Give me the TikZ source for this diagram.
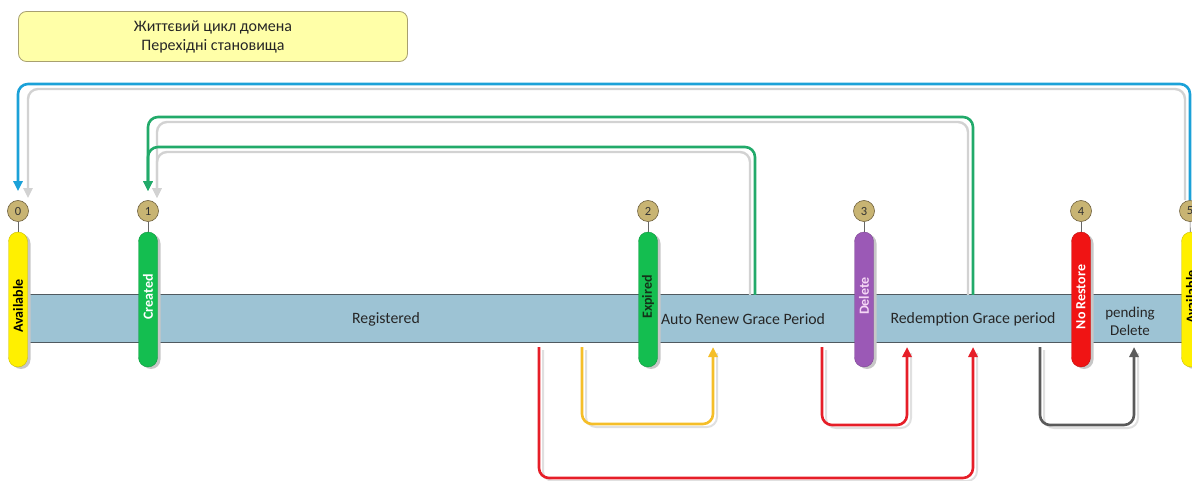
\documentclass[tikz,border=0pt]{standalone}
\usepackage{fontspec}
\setmainfont{Carlito}
\usetikzlibrary{arrows.meta,calc}
\definecolor{barfill}{RGB}{157,195,212}
\definecolor{bardraw}{RGB}{80,90,96}
\definecolor{titlefill}{RGB}{255,255,168}
\definecolor{titledraw}{RGB}{168,160,112}
\definecolor{pyellow}{RGB}{255,240,0}
\definecolor{pgreen}{RGB}{20,190,80}
\definecolor{ppurple}{RGB}{155,89,182}
\definecolor{pred}{RGB}{240,20,20}
\definecolor{cfill}{RGB}{200,180,115}
\definecolor{cdraw}{RGB}{110,95,60}
\definecolor{lblue}{RGB}{27,161,216}
\definecolor{lgreen}{RGB}{34,170,106}
\definecolor{lyellow}{RGB}{245,190,40}
\definecolor{lred}{RGB}{230,30,40}
\definecolor{ldark}{RGB}{90,90,90}
\definecolor{lshadow}{RGB}{210,210,210}
\definecolor{delfont}{RGB}{245,215,245}
\definecolor{expfont}{RGB}{20,50,25}
\begin{document}
\begin{tikzpicture}[x=1pt,y=-1pt,
  pillbox/.style={draw=#1!80!black, line width=0.4pt, fill=#1, rounded corners=9.5pt, minimum width=19pt, minimum height=135pt, inner sep=0pt},
  pillshadow/.style={fill=black!22, rounded corners=9.5pt, minimum width=19pt, minimum height=135pt, inner sep=0pt},
  pilltext/.style={rotate=90, font=\fontsize{14}{16}\selectfont\bfseries, inner sep=0pt},
  numc/.style={circle, draw=cdraw, line width=0.6pt, fill=cfill, minimum size=21pt, inner sep=0pt, font=\fontsize{12.5}{13}\selectfont, text=black!80},
  bartext/.style={font=\fontsize{15.8}{18}\selectfont, text=black!85, align=center},
  link/.style={line width=2.6pt, rounded corners=10pt},
  tip/.style={-{Triangle[length=10pt,width=9pt]}},
  shadowlink/.style={line width=2.4pt, draw=lshadow, rounded corners=10pt},
  stub/.style={draw=black!60, line width=0.6pt}
]
\useasboundingbox (0,0) rectangle (1192,481);

% title
\node[draw=titledraw, line width=0.8pt, fill=titlefill, rounded corners=8pt, minimum width=389pt, minimum height=50pt, align=center, font=\fontsize{16}{19}\selectfont, text=black!85] (title) at (213,36.5) {Життєвий цикл домена\\Перехідні становища};

% bar
\node[draw=bardraw, line width=1pt, fill=barfill, minimum width=1182pt, minimum height=47pt, inner sep=0pt] (bar) at (609,318.5) {};

\node[bartext] (reg) at (386,319) {Registered};
\node[bartext] (arg) at (743,319) {Auto Renew Grace Period};
\node[bartext] (rgp) at (973,319) {Redemption Grace period};
\node[bartext, font=\fontsize{15}{18}\selectfont] (pdl) at (1130,321) {pending\\Delete};

% pill shadows
\foreach \x in {18,148,648,864,1081,1191}
  \node[pillshadow] at (\x+3,301.5) {};

% pills
\node[pillbox=pyellow] (p0) at (18,299.5) {};
\node[pillbox=pgreen] (p1) at (148,299.5) {};
\node[pillbox=pgreen] (p2) at (648,299.5) {};
\node[pillbox=ppurple] (p3) at (864,299.5) {};
\node[pillbox=pred] (p4) at (1081,299.5) {};
\node[pillbox=pyellow] (p5) at (1191,299.5) {};

\node[pilltext, text=black] (t0) at (18,306) {Available};
\node[pilltext, text=white] (t1) at (148,297) {Created};
\node[pilltext, text=expfont] (t2) at (648,297) {Expired};
\node[pilltext, text=delfont] (t3) at (864,296) {Delete};
\node[pilltext, text=white] (t4) at (1081,297) {No Restore};
\node[pilltext, text=black] (t5) at (1191,297) {Available};

% number circles
\node[numc] (c0) at (18,211) {0};
\node[numc] (c1) at (148,211) {1};
\node[numc] (c2) at (648,211) {2};
\node[numc] (c3) at (864,211) {3};
\node[numc] (c4) at (1081,211) {4};
\node[numc] (c5) at (1190,211) {5};
\foreach \i in {0,...,5} \draw[stub] (c\i) -- (p\i);

% coordinates
\coordinate (topA) at (0,84);
\coordinate (topAs) at (0,89);
\coordinate (topB) at (0,117);
\coordinate (topBs) at (0,122);
\coordinate (topC) at (0,147);
\coordinate (topCs) at (0,152);
\coordinate (g1s) at (973,295);
\coordinate (g1ss) at (968,295);
\coordinate (g2s) at (755,295);
\coordinate (g2ss) at (750,295);

% upper shadows
\draw[shadowlink, tip] ($(c5.north)+(-5,0)$) |- ($(c0.north |- topAs)+(10,0)$) -- ($(c0.north)+(10,-2)$);
\draw[shadowlink, tip] (g1ss) |- ($(c1.north |- topBs)+(9,0)$) -- ($(c1.north)+(9,-2)$);
\draw[shadowlink, tip] (g2ss) |- ($(c1.north |- topCs)+(9,0)$) -- ($(c1.north)+(9,-2)$);

% upper links
\draw[link, draw=lblue, tip, shorten >=9pt] (c5.north) |- (c0.north |- topA) -- (c0.north);
\draw[link, draw=lgreen, tip, shorten >=9pt] (g1s) |- (c1.north |- topB) -- (c1.north);
\draw[link, draw=lgreen, tip, shorten >=9pt] (g2s) |- (c1.north |- topC) -- (c1.north);

% lower coordinates
\coordinate (ys) at (582,347);
\coordinate (ye) at (713,347);
\coordinate (ybot) at (0,424);
\coordinate (rs) at (822,347);
\coordinate (re) at (907,347);
\coordinate (rbot) at (0,425);
\coordinate (Rs) at (539,347);
\coordinate (Re) at (973,347);
\coordinate (Rbot) at (0,478);
\coordinate (ds) at (1040,347);
\coordinate (de) at (1134,347);
\coordinate (dbot) at (0,425);

% lower shadows
\foreach \s/\e/\b in {ys/ye/ybot, rs/re/rbot, Rs/Re/Rbot, ds/de/dbot}
  \draw[line width=2pt, draw=black!12, rounded corners=10pt] ($(\s)+(4,3)$) |- ($(\e |- \b)+(4,3)$) -- ($(\e)+(4,6)$);

% lower links
\draw[link, draw=lyellow, tip] (ys) |- (ye |- ybot) -- (ye);
\draw[link, draw=lred, tip] (rs) |- (re |- rbot) -- (re);
\draw[link, draw=lred, tip] (Rs) |- (Re |- Rbot) -- (Re);
\draw[link, draw=ldark, tip] (ds) |- (de |- dbot) -- (de);
\end{tikzpicture}
\end{document}
